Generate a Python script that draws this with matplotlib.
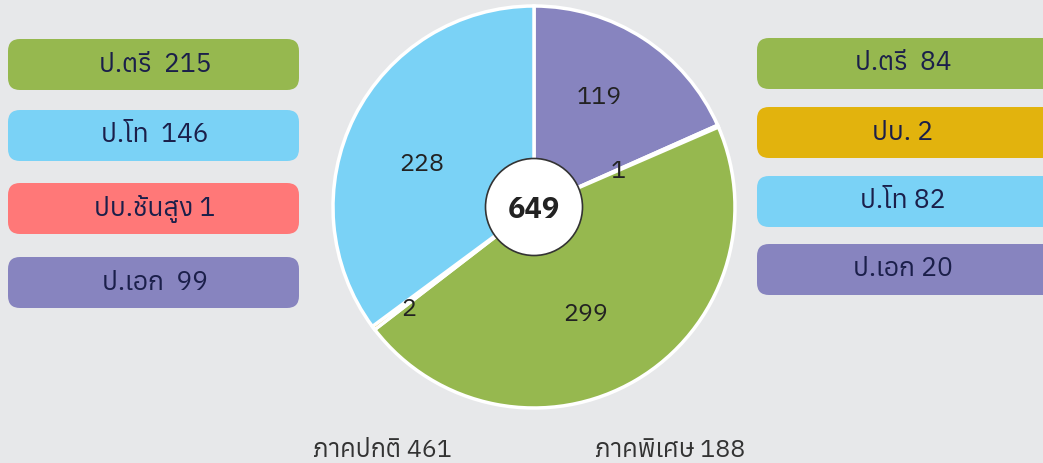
import math
import matplotlib
matplotlib.use("Agg")
import matplotlib.pyplot as plt
from matplotlib import font_manager as fm
from matplotlib.ft2font import FT2Font
from matplotlib.patches import FancyBboxPatch, Circle

# ---- data ----
pie_values = [119, 1, 299, 2, 228]
pie_colors = ["#8784bf", "#ff7878", "#96b84f", "#e2b30d", "#7ad2f6"]
total_label = "649"

left_labels = ["ป.ตรี  215", "ป.โท  146", "ปบ.ชั้นสูง 1", "ป.เอก  99"]
left_colors = ["#96b84f", "#7ad2f6", "#ff7878", "#8784bf"]
right_labels = ["ป.ตรี  84", "ปบ. 2", "ป.โท 82", "ป.เอก 20"]
right_colors = ["#96b84f", "#e2b30d", "#7ad2f6", "#8784bf"]
bottom_labels = ["ภาคปกติ 461", "ภาคพิเศษ 188"]

# ---- pick fonts with Thai glyphs ----
names = {f.name for f in fm.fontManager.ttflist}
thai_font = None
for pref in ["Anuphan", "IBM Plex Sans Thai", "Noto Sans Thai", "Prompt", "Kanit"]:
    if pref in names:
        thai_font = pref
        break
if thai_font is None:
    for f in fm.fontManager.ttflist:
        try:
            if 0x0E1B in FT2Font(f.fname).get_charmap():
                thai_font = f.name
                break
        except Exception:
            pass
bold_font = None
for f in fm.fontManager.ttflist:
    if f.name in ("IBM Plex Sans Thai", "Anuphan", "Noto Sans Thai") and f.weight in (600, 700, "bold", "semibold"):
        bold_font = f.name
        break
base = ([thai_font] if thai_font else []) + ["DejaVu Sans"]
plt.rcParams["font.family"] = base
bold_family = ([bold_font] if bold_font else []) + base

W, H = 1043, 463
BG = "#e7e8ea"
TXT = "#1b1f4a"

fig = plt.figure(figsize=(W / 100, H / 100), dpi=100, facecolor=BG)
ax = fig.add_axes([0, 0, 1, 1])
ax.set_facecolor(BG)


def Y(py):
    return H - py


cx, cy, R = 534, Y(207), 201
wedges, _ = ax.pie(pie_values, colors=pie_colors, startangle=90, counterclock=False,
                   center=(cx, cy), radius=R, frame=True,
                   wedgeprops=dict(edgecolor="white", linewidth=2.5))
ax.set_xlim(0, W)
ax.set_ylim(0, H)
ax.set_aspect("equal")
ax.axis("off")

label_r = [0.645, 0.46, 0.585, 0.80, 0.60]
label_dang = [3.0, 0.3, -4.3, 1.6, 4.7]
for w, v, rr, da in zip(wedges, pie_values, label_r, label_dang):
    mid = math.radians((w.theta1 + w.theta2) / 2 + da)
    ax.text(cx + rr * R * math.cos(mid), cy + rr * R * math.sin(mid), str(v),
            ha="center", va="center_baseline", fontsize=18, color="#222222")

ax.add_patch(Circle((cx, cy), 48.5, facecolor="white", edgecolor="#333333",
                    linewidth=1.2, zorder=5))
ax.text(cx, cy, total_label, ha="center", va="center_baseline", fontsize=21,
        fontweight="bold", family=bold_family, color="#222222", zorder=6)


def box(x0, x1, ytop, ybot, color, label, tx):
    pad = 12
    ax.add_patch(FancyBboxPatch((x0 + pad, Y(ybot) + pad), (x1 - x0) - 2 * pad,
                                (ybot - ytop) - 2 * pad,
                                boxstyle="round,pad=%d" % pad, facecolor=color,
                                edgecolor="none"))
    ax.text(tx, Y((ytop + ybot) / 2 - 3), label, ha="center",
            va="center_baseline", fontsize=19, color=TXT)


left_tops = [39, 110, 183, 257]
for t, c, l in zip(left_tops, left_colors, left_labels):
    box(8, 299, t, t + 51, c, l, 155)
right_tops = [38, 107, 176, 244]
for t, c, l in zip(right_tops, right_colors, right_labels):
    box(757, 1043 + 20, t, t + 51, c, l, 903)

for x, l in zip([382, 670], bottom_labels):
    ax.text(x, Y(448), l, ha="center", va="center_baseline", fontsize=18,
            color="#333333")

fig.savefig("out.png", dpi=100, facecolor=BG)
